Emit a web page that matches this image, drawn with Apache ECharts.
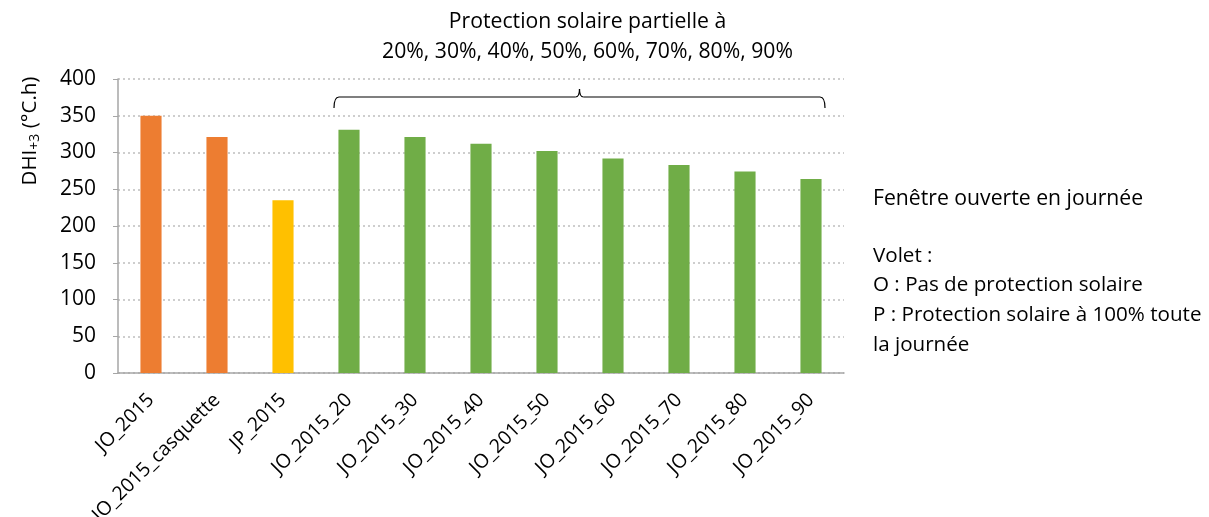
<!DOCTYPE html>
<html><head><meta charset="utf-8">
<script src="https://cdn.jsdelivr.net/npm/echarts@6/dist/echarts.min.js"></script>
<style>html,body{margin:0;padding:0;background:#fff}#c{width:1209px;height:517px}</style>
</head><body><div id="c"></div>
<script>
const categories = ['JO_2015','JO_2015_casquette','JP_2015','JO_2015_20','JO_2015_30','JO_2015_40','JO_2015_50','JO_2015_60','JO_2015_70','JO_2015_80','JO_2015_90'];
const values = [350, 321, 235, 331, 321, 312, 302, 292, 283, 274, 264];
const groups = ['O','O','P','S','S','S','S','S','S','S','S'];
const groupColors = {O:'#ED7D31', P:'#FFC000', S:'#70AD47'};
const yTicks = [0,50,100,150,200,250,300,350,400];
const FONT = '"Open Sans", "Noto Sans", sans-serif';

const chart = echarts.init(document.getElementById('c'), null, {renderer:'canvas'});
const option = {
  animation:false,
  textStyle:{fontFamily:FONT},
  grid:{left:118, right:365, top:79, bottom:144, containLabel:false, outerBoundsMode:'none'},
  xAxis:{
    type:'category', data:categories,
    axisLine:{lineStyle:{color:'#A6A6A6', width:1.5}},
    axisTick:{show:false},
    axisLabel:{rotate:45, interval:0, fontSize:19.5, color:'#000', fontFamily:FONT, margin:24}
  },
  yAxis:{
    type:'value', min:yTicks[0], max:yTicks[yTicks.length-1], interval:50,
    axisLine:{show:true, lineStyle:{color:'#A6A6A6', width:1.5}},
    axisTick:{show:true, length:5, inside:false, lineStyle:{color:'#A6A6A6'}},
    axisLabel:{fontSize:21, color:'#000', fontFamily:FONT, margin:22},
    splitLine:{lineStyle:{color:'#BFBFBF', type:[2,3], width:1.5}}
  },
  series:[{
    type:'bar', barWidth:'32%',
    data: values.map((v,i)=>({value:v, itemStyle:{color:groupColors[groups[i]]}}))
  }]
};
chart.setOption(option);

// annotations
const left = chart.convertToPixel({xAxisIndex:0}, categories[3]) - 15;
const right = chart.convertToPixel({xAxisIndex:0}, categories[10]) + 14;
const yTop = 97, yBot = 108, mid = (left+right)/2;
const st = {fill:null, stroke:'#000', lineWidth:1.2};
chart.setOption({graphic:[
  {type:'bezierCurve', shape:{x1:left, y1:yBot, x2:left+5, y2:yTop, cpx1:left, cpy1:yTop}, style:st},
  {type:'line', shape:{x1:left+5, y1:yTop, x2:mid-4, y2:yTop}, style:st},
  {type:'bezierCurve', shape:{x1:mid-4, y1:yTop, x2:mid, y2:yTop-8, cpx1:mid, cpy1:yTop}, style:st},
  {type:'bezierCurve', shape:{x1:mid+4, y1:yTop, x2:mid, y2:yTop-8, cpx1:mid, cpy1:yTop}, style:st},
  {type:'line', shape:{x1:mid+4, y1:yTop, x2:right-5, y2:yTop}, style:st},
  {type:'bezierCurve', shape:{x1:right, y1:yBot, x2:right-5, y2:yTop, cpx1:right, cpy1:yTop}, style:st},
  {type:'text', x:mid+8, y:7, style:{text:'Protection solaire partielle à\n20%, 30%, 40%, 50%, 60%, 70%, 80%, 90%', fontSize:21.2, lineHeight:30, fill:'#000', fontFamily:FONT, align:'center'}},
  {type:'text', x:30, y:131, rotation:Math.PI/2, style:{text:'{a|DHI}{b|+3}{a| (°C.h)}', align:'center', verticalAlign:'middle',
     rich:{a:{fontSize:20.5, fill:'#000', fontFamily:FONT}, b:{fontSize:14, fill:'#000', fontFamily:FONT, padding:[10,0,0,0]}}}},
  {type:'text', x:873, y:199, style:{text:'Fenêtre ouverte en journée', fontSize:21.2, fill:'#000', fontFamily:FONT, verticalAlign:'middle'}},
  {type:'text', x:873, y:241, style:{text:'Volet :\nO : Pas de protection solaire\nP : Protection solaire à 100% toute\nla journée', fontSize:20.6, lineHeight:29.7, fill:'#000', fontFamily:FONT}}
]});
</script></body></html>
